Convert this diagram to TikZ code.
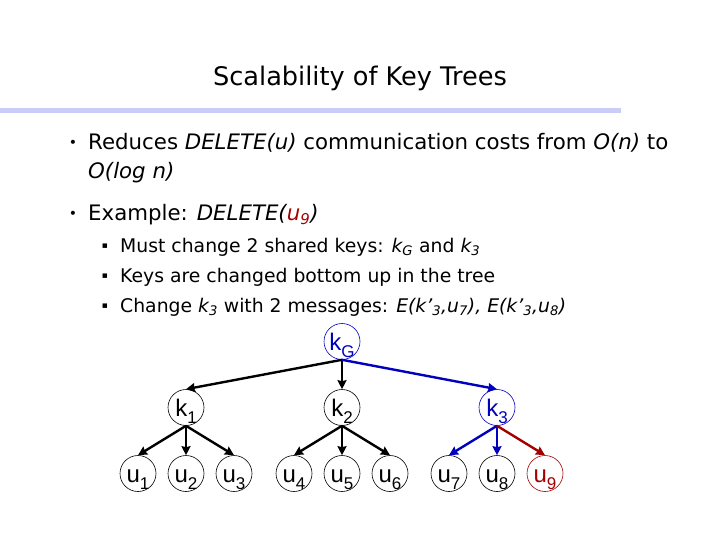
\documentclass[tikz,border=0pt]{standalone}
\usepackage{fontspec}
\usetikzlibrary{arrows.meta}
\setmainfont{DejaVu Sans}
\newfontfamily\nodefont{Liberation Sans}
\definecolor{keyblue}{RGB}{0,0,190}
\definecolor{keyred}{RGB}{165,0,0}
\definecolor{rulecol}{RGB}{204,204,248}

% key / member label with a big lowered index
\newcommand{\keylabel}[2]{#1\raisebox{-7pt}{\fontsize{17}{17}\selectfont #2}}

\begin{document}
\begin{tikzpicture}[x=1pt, y=-1pt,
        key_node/.style={draw, circle, minimum size=36pt, inner sep=0pt, line width=0.6pt, text height=17pt, text depth=0pt, font=\nodefont\fontsize{24}{24}\selectfont},
        body_text/.style={anchor=base west, inner sep=0pt, font=\fontsize{21.3}{24}\selectfont},
        sub_text/.style={anchor=base west, inner sep=0pt, font=\fontsize{18.8}{20}\selectfont},
        dot_mark/.style={inner sep=0pt, font=\fontsize{14}{14}\selectfont},
        sq_mark/.style={inner sep=0pt, font=\fontsize{9}{9}\selectfont},
        tree_edge/.style={->, line width=2.4pt},
        >={Stealth[length=9pt, width=9pt, inset=1pt]}
    ]
        \useasboundingbox (0,0) rectangle (720,540);

        % Title and rule
        \node[font=\fontsize{25.6}{28}\selectfont] (title) at (360,78) {Scalability of Key Trees};
        \fill[rulecol] (0,108) rectangle (621,113);

        % Bullets
        \node[dot_mark] (d1) at (73,144) {•};
        \node[body_text] (l1) at (88,150) {Reduces \textit{DELETE(u)} communication costs from \textit{O(n)} to};
        \node[body_text] (l2) at (88,179) {\textit{O(log n)}};
        \node[dot_mark] (d2) at (73,215) {•};
        \node[body_text] (l3) at (88,221) {Example: \textit{DELETE(\textcolor{keyred}{u\textsubscript{9}})}};

        \node[sq_mark] (s1) at (105,246) {▪};
        \node[sub_text] (m1) at (120,252) {Must change 2 shared keys: \textit{k\textsubscript{G}} and \textit{k\textsubscript{3}}};
        \node[sq_mark] (s2) at (105,276) {▪};
        \node[sub_text] (m2) at (120,282) {Keys are changed bottom up in the tree};
        \node[sq_mark] (s3) at (105,306) {▪};
        \node[sub_text] (m3) at (120,312) {Change \textit{k\textsubscript{3}} with 2 messages: \textit{E(k’\textsubscript{3},u\textsubscript{7}), E(k’\textsubscript{3},u\textsubscript{8})}};

        % Key tree
        \node[key_node, keyblue] (kG) at (342,341.5) {\keylabel{k}{G}};
        \node[key_node] (k1) at (186,407.5) {\keylabel{k}{1}};
        \node[key_node] (k2) at (342,407.5) {\keylabel{k}{2}};
        \node[key_node, keyblue] (k3) at (497,407.5) {\keylabel{k}{3}};

        \node[key_node] (u1) at (138,473.5) {\keylabel{u}{1}};
        \node[key_node] (u2) at (186,473.5) {\keylabel{u}{2}};
        \node[key_node] (u3) at (234,473.5) {\keylabel{u}{3}};
        \node[key_node] (u4) at (294,473.5) {\keylabel{u}{4}};
        \node[key_node] (u5) at (342,473.5) {\keylabel{u}{5}};
        \node[key_node] (u6) at (390,473.5) {\keylabel{u}{6}};
        \node[key_node] (u7) at (449,473.5) {\keylabel{u}{7}};
        \node[key_node] (u8) at (497,473.5) {\keylabel{u}{8}};
        \node[key_node, keyred] (u9) at (545,473.5) {\keylabel{u}{9}};

        % Edges
        \draw[tree_edge] (kG.south) -- (k1.north);
        \draw[tree_edge] (kG.south) -- (k2.north);
        \draw[tree_edge, keyblue] (kG.south) -- (k3.north);

        \draw[tree_edge] (k1.south) -- (u1.north);
        \draw[tree_edge] (k1.south) -- (u2.north);
        \draw[tree_edge] (k1.south) -- (u3.north);
        \draw[tree_edge] (k2.south) -- (u4.north);
        \draw[tree_edge] (k2.south) -- (u5.north);
        \draw[tree_edge] (k2.south) -- (u6.north);
        \draw[tree_edge, keyblue] (k3.south) -- (u7.north);
        \draw[tree_edge, keyblue] (k3.south) -- (u8.north);
        \draw[tree_edge, keyred] (k3.south) -- (u9.north);
    \end{tikzpicture}
\end{document}
